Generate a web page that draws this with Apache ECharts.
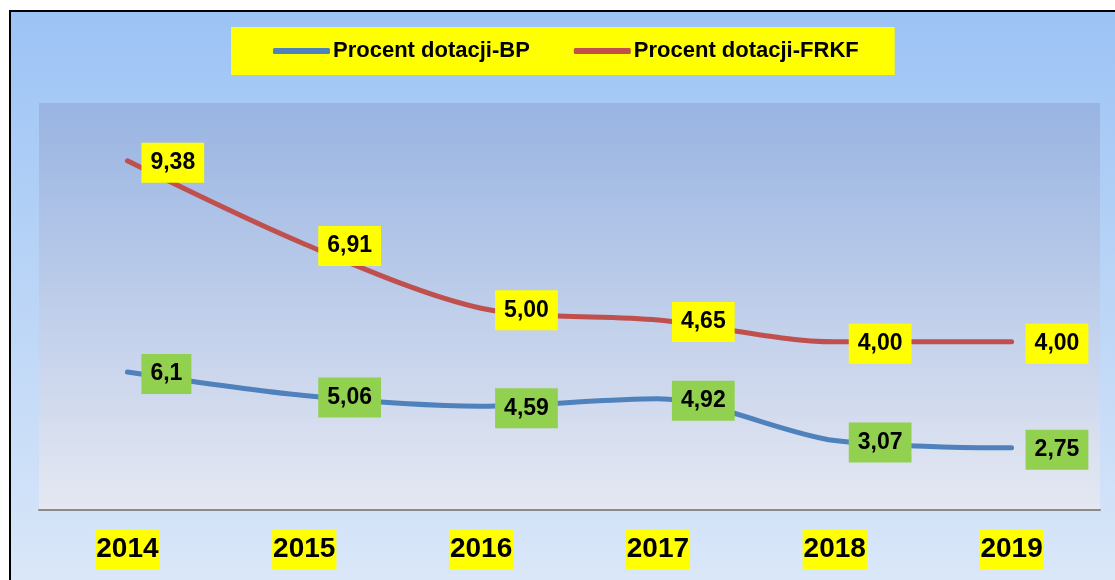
<!DOCTYPE html>
<html>
<head>
<meta charset="utf-8">
<script src="https://cdn.jsdelivr.net/npm/echarts@6/dist/echarts.min.js"></script>
<style>
  html, body { margin: 0; padding: 0; background: #fff; }
  #chart { width: 1115px; height: 580px; }
</style>
</head>
<body>
<div id="chart"></div>
<script>
const years = ["2014", "2015", "2016", "2017", "2018", "2019"];
const bpValues = [6.1, 5.06, 4.59, 4.92, 3.07, 2.75];
const frkfValues = [9.38, 6.91, 5.0, 4.65, 4.0, 4.0];
const seriesNames = ["Procent dotacji-BP", "Procent dotacji-FRKF"];

const font = "'Liberation Sans', Arial, sans-serif";

const chart = echarts.init(document.getElementById("chart"));

function labelStyle(bg, fmt) {
  return {
    show: true,
    position: "right",
    distance: 14,
    offset: [0, 2],
    fontFamily: font,
    fontSize: 23,
    fontWeight: "bold",
    color: "#000",
    lineHeight: 24,
    backgroundColor: bg,
    padding: [8, 9],
    formatter: (p) => fmt(p.value),
  };
}

const option = {
  backgroundColor: "#fff",
  animation: false,
  graphic: [
    {
      type: "rect",
      z: -10,
      shape: { x: 10, y: 11, width: 1120, height: 600 },
      style: {
        fill: new echarts.graphic.LinearGradient(0, 0, 0, 1, [
          { offset: 0, color: "#9cc3f5" },
          { offset: 1, color: "#dde9f9" },
        ]),
        stroke: "#000",
        lineWidth: 2,
      },
    },
  ],
  legend: {
    top: 27,
    left: 231,
    data: seriesNames,
    backgroundColor: "#ffff00",
    padding: [13, 36, 13, 42],
    itemGap: 44,
    itemWidth: 57,
    itemHeight: 6,
    icon: "roundRect",
    textStyle: {
      fontFamily: font,
      fontSize: 22,
      fontWeight: "bold",
      color: "#000",
      padding: [0, 0, 0, -2],
    },
  },
  grid: {
    left: 39,
    right: 15,
    top: 103,
    bottom: 70,
    show: true,
    borderWidth: 0,
    backgroundColor: new echarts.graphic.LinearGradient(0, 0, 0, 1, [
      { offset: 0, color: "#98b4e2" },
      { offset: 1, color: "#e5e8f2" },
    ]),
  },
  xAxis: {
    type: "category",
    data: years,
    boundaryGap: true,
    axisLine: { lineStyle: { color: "#8a8a8a", width: 2 } },
    axisTick: { show: false },
    axisLabel: {
      margin: 20,
      fontFamily: font,
      fontSize: 28,
      fontWeight: "bold",
      color: "#000",
      lineHeight: 29,
      backgroundColor: "#ffff00",
      padding: [5, 1],
    },
  },
  yAxis: [
    { type: "value", min: 0, max: 18, show: false, splitLine: { show: false } },
    { type: "value", min: -1, max: 11.1, show: false, splitLine: { show: false } },
  ],
  series: [
    {
      name: seriesNames[0],
      type: "line",
      yAxisIndex: 0,
      data: bpValues,
      smooth: 0.3,
      symbol: "circle",
      symbolSize: 0.01,
      showSymbol: true,
      color: "#4f81bd",
      lineStyle: { width: 5, cap: "round" },
      label: labelStyle("#92d050", (v) => String(v).replace(".", ",")),
    },
    {
      name: seriesNames[1],
      type: "line",
      yAxisIndex: 1,
      data: frkfValues,
      smooth: 0.3,
      symbol: "circle",
      symbolSize: 0.01,
      showSymbol: true,
      color: "#c0504d",
      lineStyle: { width: 5, cap: "round" },
      label: labelStyle("#ffff00", (v) => v.toFixed(2).replace(".", ",")),
    },
  ],
};

chart.setOption(option);
</script>
</body>
</html>
